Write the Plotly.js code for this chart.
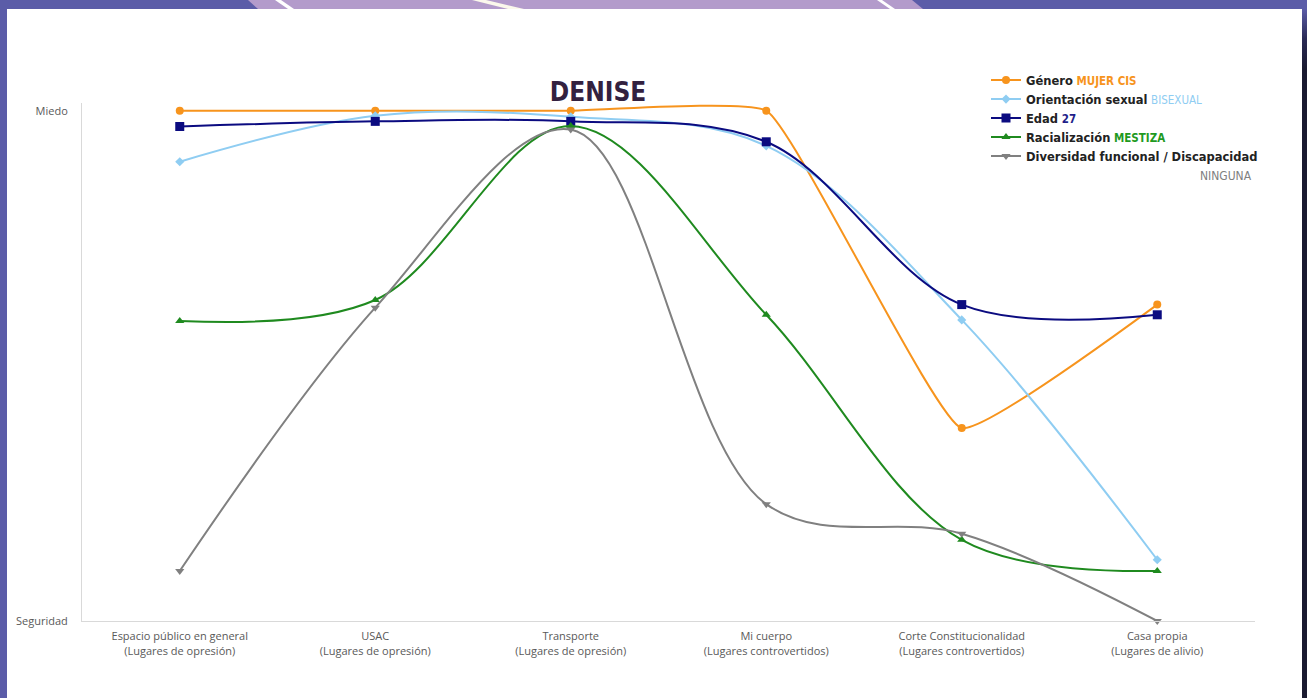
<!DOCTYPE html>
<html>
<head>
<meta charset="utf-8">
<script src="https://cdn.plot.ly/plotly-3.0.1.min.js"></script>
<style>
  html, body { margin: 0; padding: 0; }
  body { width: 1307px; height: 698px; background: #5b5ca8; position: relative; overflow: hidden; }
  #deco { position: absolute; left: 0; top: 0; }
  #panel { position: absolute; left: 7px; top: 9px; width: 1295px; height: 689px; background: #ffffff; }
  #rightstrip { position: absolute; left: 1302px; top: 9px; width: 5px; height: 689px;
    background: linear-gradient(to bottom, #5b5ca8 0px, #2a2a55 30px, #1a1a30 60px, #1a1a30 100%); }
  #chart { position: absolute; left: 0; top: 0; width: 1307px; height: 698px; }
</style>
</head>
<body>
<svg id="deco" width="1307" height="10">
  <polygon points="248,0 912,0 923,9 258,9" fill="#b39bcb"/>
  <polygon points="275,0 281,0 294,9 288,9" fill="#ffffff"/>
  <polygon points="472,0 486,0 524,9 508,9" fill="#fbf8ec"/>
  <polygon points="877,0 882,0 895,9 890,9" fill="#ffffff"/>
</svg>
<div id="panel"></div>
<div id="rightstrip"></div>
<div id="chart"></div>
<script>
// ---- data ----
const categories = [
  'Espacio público en general<br>(Lugares de opresión)',
  'USAC<br>(Lugares de opresión)',
  'Transporte<br>(Lugares de opresión)',
  'Mi cuerpo<br>(Lugares controvertidos)',
  'Corte Constitucionalidad<br>(Lugares controvertidos)',
  'Casa propia<br>(Lugares de alivio)'
];
const genero        = [10, 10, 10, 10, 3.78, 6.2];
const orientacion   = [9.0, 9.9, 9.88, 9.31, 5.9, 1.2];
const edad          = [9.69, 9.79, 9.79, 9.39, 6.2, 6.0];
const racializacion = [5.88, 6.29, 9.7, 6.0, 1.59, 0.98];
const diversidad    = [0.98, 6.14, 9.63, 2.29, 1.71, 0];
const yTickVals = [0, 10];
const yTickText = ['Seguridad', 'Miedo'];
const chartTitle = 'DENISE';
const seriesNames = [
  '<b>Género</b> <span style="color:#f7941d;font-family:Liberation Sans Narrow, DejaVu Sans Condensed;font-weight:bold">MUJER CIS</span>',
  '<b>Orientación sexual</b> <span style="color:#8fcdf2;font-family:Liberation Sans Narrow, DejaVu Sans Condensed;font-weight:normal">BISEXUAL</span>',
  '<b>Edad</b> <span style="color:#1f1f8a;font-family:Liberation Sans Narrow, DejaVu Sans Condensed;font-weight:bold">27</span>',
  '<b>Racialización</b> <span style="color:#1f9a1f;font-family:Liberation Sans Narrow, DejaVu Sans Condensed;font-weight:bold">MESTIZA</span>',
  '<b>Diversidad funcional / Discapacidad</b>'
];
const lastNote = 'NINGUNA';

// ---- styles ----
const colors = ['#f7941d', '#8fcdf2', '#0b0b80', '#1f8a1f', '#808080'];
const symbols = ['circle', 'diamond', 'square', 'triangle-up', 'triangle-down'];
const sizes = [8, 7, 9, 8, 8];
const smooth = [0.35, 1, 1, 1, 1];
const allSeries = [genero, orientacion, edad, racializacion, diversidad];

const traces = allSeries.map((vals, i) => ({
  x: categories,
  y: vals,
  name: seriesNames[i],
  type: 'scatter',
  mode: 'lines+markers',
  line: { color: colors[i], width: 2, shape: 'spline', smoothing: smooth[i] },
  marker: { color: colors[i], symbol: symbols[i], size: sizes[i] },
  cliponaxis: false
}));

// plot area: y=0 at 621px, y=10 at 111px (51 px per unit); a little headroom above 10
const yTop = 10.15;
const topPx = 621 - yTop * 51;

const layout = {
  width: 1307,
  height: 698,
  paper_bgcolor: 'rgba(0,0,0,0)',
  plot_bgcolor: 'rgba(0,0,0,0)',
  margin: { l: 82, r: 52, t: topPx, b: 77 },
  title: {
    text: chartTitle,
    xref: 'container', yref: 'container',
    x: 598 / 1307, y: 1 - 92 / 698,
    xanchor: 'center', yanchor: 'middle',
    font: { family: 'Liberation Sans Narrow, DejaVu Sans Condensed, sans-serif', weight: 'bold', size: 26, color: '#33213f' }
  },
  showlegend: true,
  legend: {
    x: (986 - 82) / 1173, y: (621 - 66) / (621 - topPx),
    xanchor: 'left', yanchor: 'top',
    bgcolor: 'rgba(0,0,0,0)',
    font: { family: 'DejaVu Sans, sans-serif', size: 11.5, color: '#222222' },
    itemwidth: 30,
    tracegroupgap: 0
  },
  xaxis: {
    type: 'category',
    range: [-0.5, 5.5],
    showgrid: false,
    zeroline: false,
    showline: true,
    linecolor: '#d9d9d9',
    linewidth: 1,
    ticks: '',
    ticklabelstandoff: 5,
    tickfont: { family: 'Open Sans, sans-serif', size: 11, color: '#595959' },
    fixedrange: true
  },
  yaxis: {
    range: [0, yTop],
    tickvals: yTickVals,
    ticktext: yTickText,
    showgrid: false,
    zeroline: false,
    showline: true,
    linecolor: '#d9d9d9',
    linewidth: 1,
    ticks: '',
    ticklabelstandoff: 11,
    tickfont: { family: 'Open Sans, sans-serif', size: 11, color: '#595959' },
    fixedrange: true
  },
  annotations: [{
    text: lastNote,
    xref: 'paper', yref: 'paper',
    x: (1254 - 82) / 1173, y: (621 - 176) / (621 - topPx),
    xanchor: 'right', yanchor: 'middle',
    showarrow: false,
    font: { family: 'Liberation Sans Narrow, DejaVu Sans Condensed, sans-serif', size: 12, color: '#808080' }
  }]
};

Plotly.newPlot('chart', traces, layout, { displayModeBar: false, staticPlot: true });
</script>
</body>
</html>
